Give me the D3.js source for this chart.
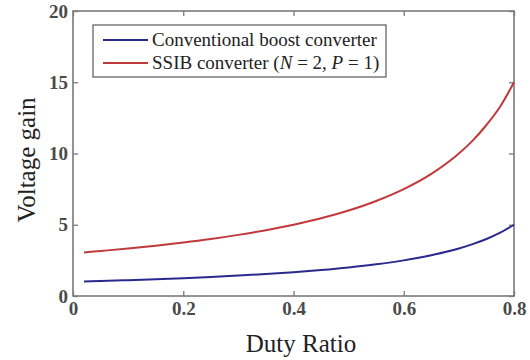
<!DOCTYPE html>
<html><head><meta charset="utf-8">
<script src="https://cdn.jsdelivr.net/npm/d3@7"></script>
<style>body{margin:0;background:#fff}svg{display:block}</style>
</head><body><svg id="c" width="530" height="360"></svg>
<script>
const duty = [0.02,0.05,0.1,0.15,0.2,0.25,0.3,0.35,0.4,0.45,0.5,0.55,0.6,0.65,0.7,0.725,0.75,0.775,0.8];
const conventional = [1.02,1.05,1.11,1.18,1.25,1.33,1.43,1.54,1.67,1.82,2.0,2.22,2.5,2.86,3.33,3.64,4.0,4.44,5.0];
const ssib = [3.06,3.16,3.33,3.53,3.75,4.0,4.29,4.62,5.0,5.45,6.0,6.67,7.5,8.57,10.0,10.9,12.0,13.3,15.0];
const xTicks = [0,0.2,0.4,0.6,0.8];
const yTicks = [0,5,10,15,20];
const seriesNames = ["Conventional boost converter","SSIB converter"];
const colors = ["#2a2a8c","#c0393b"];

const svg = d3.select("#c");
const L=73,R=514,T=11,B=296;
const x = d3.scaleLinear().domain([0,0.8]).range([L,R]);
const y = d3.scaleLinear().domain([0,20]).range([B,T]);
const axCol="#7a7a7a", font="Liberation Serif, Times New Roman, serif";

svg.append("rect").attr("x",L).attr("y",T).attr("width",R-L).attr("height",B-T)
  .attr("fill","none").attr("stroke",axCol).attr("stroke-width",1.6);

function styleAxis(g, labels){
  g.select(".domain").remove();
  g.selectAll(".tick line").attr("stroke",axCol).attr("stroke-width",1.3);
  g.selectAll(".tick text").attr("fill", labels?"#4a4a4a":"none").style("font-family",font)
    .style("font-size","19px").style("font-weight","bold");
}
svg.append("g").attr("transform",`translate(0,${B})`)
  .call(d3.axisBottom(x).tickValues(xTicks).tickSize(-5).tickPadding(6).tickFormat(d=>d===0?"0":d3.format(".1f")(d)))
  .call(g=>styleAxis(g,true));
svg.append("g").attr("transform",`translate(0,${T})`)
  .call(d3.axisTop(x).tickValues(xTicks).tickSize(-5).tickFormat(""))
  .call(g=>styleAxis(g,false));
svg.append("g").attr("transform",`translate(${L},0)`)
  .call(d3.axisLeft(y).tickValues(yTicks).tickSize(-5).tickPadding(5))
  .call(g=>styleAxis(g,true));
svg.append("g").attr("transform",`translate(${R},0)`)
  .call(d3.axisRight(y).tickValues(yTicks).tickSize(-5).tickFormat(""))
  .call(g=>styleAxis(g,false));

const line = d3.line().x((d,i)=>x(duty[i])).y(d=>y(d)).curve(d3.curveMonotoneX);
[conventional, ssib].forEach((s,k)=>{
  svg.append("path").attr("d",line(s)).attr("fill","none").attr("stroke",colors[k]).attr("stroke-width",2);
});

// legend
svg.append("rect").attr("x",93).attr("y",25).attr("width",293).attr("height",52)
  .attr("fill","#fff").attr("stroke","#666").attr("stroke-width",1.3);
const rows=[40,63];
rows.forEach((ry,k)=>{
  svg.append("line").attr("x1",103).attr("x2",148).attr("y1",ry).attr("y2",ry).attr("stroke",colors[k]).attr("stroke-width",2);
});
svg.append("text").attr("x",152).attr("y",rows[0]+6).style("font-family",font).style("font-size","19px").attr("fill","#222")
  .text(seriesNames[0]);
const t2 = svg.append("text").attr("x",152).attr("y",rows[1]+6).style("font-family",font).style("font-size","19px").attr("fill","#222");
t2.append("tspan").text(seriesNames[1]+" (");
t2.append("tspan").attr("font-style","italic").text("N");
t2.append("tspan").text(" = 2, ");
t2.append("tspan").attr("font-style","italic").text("P");
t2.append("tspan").text(" = 1)");

svg.append("text").attr("x",301).attr("y",352).attr("text-anchor","middle")
  .style("font-family",font).style("font-size","25px").attr("fill","#222").text("Duty Ratio");
svg.append("text").attr("transform",`translate(35,160) rotate(-90)`).attr("text-anchor","middle")
  .style("font-family",font).style("font-size","25px").attr("fill","#222").text("Voltage gain");
</script></body></html>
